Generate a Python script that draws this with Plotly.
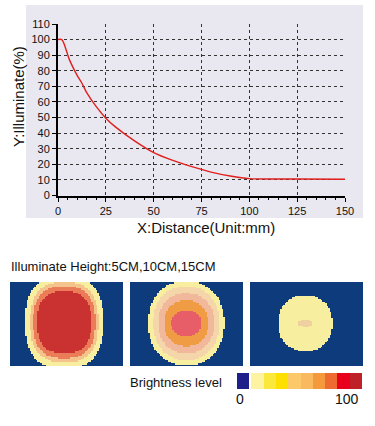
import numpy as np
import plotly.graph_objects as go

# ---------------- data ----------------
distance_mm = [0, 2, 6, 10, 12.5, 15, 20, 25, 30, 40, 50, 60, 70, 80, 90, 100, 125, 150]
illuminate_pct = [100, 100, 87, 77, 72, 66, 57, 49.6, 44, 35, 27.5, 22.5, 18.5, 15, 12.5, 10.8, 10.6, 10.4]
x_ticks = [0, 25, 50, 75, 100, 125, 150]
y_ticks = [0, 10, 20, 30, 40, 50, 60, 70, 80, 90, 100, 110]

# brightness zones of the three spots (outer -> inner), half-widths / half-heights in image pixels
spot1_rx = [39, 34, 31, 27]
spot1_ry = [46, 40, 36, 31]
spot1_colors = ["#f7eea0", "#f5c38c", "#ea7c58", "#c93230"]

spot2_rx = [38, 33, 28, 22, 15]
spot2_ry = [42, 37, 30, 23, 13]
spot2_colors = ["#f7eea0", "#f5d6aa", "#f1b89c", "#ef9c44", "#e85e68"]

spot3_rx = [27, 7]
spot3_ry = [28, 3.5]
spot3_colors = ["#f7eea0", "#efd0a0"]

legend_levels = [0, 1, 2, 3, 4, 5, 6, 7, 8, 9]
legend_colors = ["#1f1f8c", "#fdf3a0", "#fbe83c", "#fde000", "#fcc96a",
                 "#f9b95e", "#f49a3c", "#ee6a30", "#e8001c", "#be2128"]
legend_labels = ["0", "100"]

BG_NAVY = "#0d3b7b"
W, H = 375, 426
FONT = "Arial, Liberation Sans, sans-serif"


def px(x):
    return x / W


def py(y):
    return 1 - y / H


def zone_grid(rx, ry, cx, cy, p, w=113, h=84, step=1.5):
    xs = np.arange(step / 2, w, step)
    ys = np.arange(step / 2, h, step)
    X, Y = np.meshgrid(xs, ys)
    z = np.zeros_like(X)
    for i, (a, b) in enumerate(zip(rx, ry)):
        d = np.abs((X - cx) / a) ** p + np.abs((Y - cy) / b) ** p
        z[d <= 1] = i + 1
    return xs, ys, z


def discrete_scale(colors):
    n = len(colors)
    scale = []
    for k, c in enumerate(colors):
        scale.append([k / n, c])
        scale.append([(k + 1) / n, c])
    return scale


fig = go.Figure()

# background panel of the curve chart
fig.add_shape(type="rect", xref="paper", yref="paper",
              x0=px(26), x1=px(363), y0=py(218), y1=py(5),
              fillcolor="#e9e7f0", line_width=0, layer="below")

# curve
fig.add_trace(go.Scatter(x=distance_mm, y=illuminate_pct, mode="lines",
                         line=dict(color="#e0201c", width=1.4, shape="spline", smoothing=0.8),
                         showlegend=False, hoverinfo="skip",
                         xaxis="x", yaxis="y"))

hidden = dict(visible=False, automargin=False, showgrid=False, zeroline=False)

# spots
spots = [
    (spot1_rx, spot1_ry, spot1_colors, 54, 40, 10, 2.6),
    (spot2_rx, spot2_ry, spot2_colors, 56, 41, 130, 2.2),
    (spot3_rx, spot3_ry, spot3_colors, 55, 41, 250, 2.2),
]
for i, (rx, ry, cols, cx, cy, left, p) in enumerate(spots):
    n = i + 2
    xs, ys, z = zone_grid(rx, ry, cx, cy, p)
    colors = [BG_NAVY] + cols
    fig.add_trace(go.Heatmap(x=xs, y=ys, z=z, colorscale=discrete_scale(colors),
                             zmin=-0.5, zmax=len(colors) - 0.5, showscale=False,
                             hoverinfo="skip", xaxis=f"x{n}", yaxis=f"y{n}"))
    fig.update_layout(**{
        f"xaxis{n}": dict(domain=[px(left), px(left + 113)], range=[0, 113],
                          anchor=f"y{n}", **hidden),
        f"yaxis{n}": dict(domain=[py(366), py(282)], range=[84, 0],
                          anchor=f"x{n}", **hidden),
    })

# brightness legend bar
bar_z = [[legend_levels[0], None] + legend_levels[1:]]
bar_edges = [0, 1, 1.18] + [1.18 + k for k in range(1, 10)]
fig.add_trace(go.Heatmap(x=bar_edges, z=bar_z, colorscale=discrete_scale(legend_colors),
                         zmin=-0.5, zmax=9.5, showscale=False, hoverinfo="skip",
                         xaxis="x5", yaxis="y5"))
fig.update_layout(
    xaxis5=dict(domain=[px(237), px(362)], range=[0, bar_edges[-1]], anchor="y5", **hidden),
    yaxis5=dict(domain=[py(389), py(373)], range=[-0.5, 0.5], anchor="x5", **hidden),
)

axis_common = dict(
    showline=True, linecolor="black", linewidth=2,
    ticks="outside", ticklen=4, tickcolor="black", tickwidth=1,
    showgrid=True, gridcolor="#333333", gridwidth=1, griddash="3px,3px",
    zeroline=False, automargin=False,
    tickfont=dict(family=FONT, size=11, color="#111"),
)


def label(text, x, y, size, xanchor="center", angle=0):
    return dict(text=text, xref="paper", yref="paper", x=px(x), y=py(y),
                xanchor=xanchor, yanchor="middle", showarrow=False, textangle=angle,
                font=dict(family=FONT, size=size, color="#111"))


fig.update_layout(
    template="none",
    width=W, height=H,
    margin=dict(l=0, r=0, t=0, b=0, pad=0, autoexpand=False),
    paper_bgcolor="white", plot_bgcolor="rgba(0,0,0,0)",
    xaxis=dict(domain=[px(58), px(345)], range=[0, 150], tickvals=x_ticks,
               anchor="y",
               minor=dict(dtick=5, ticks="outside", ticklen=2, tickcolor="black",
                          showgrid=False),
               **axis_common),
    yaxis=dict(domain=[py(195.5), py(24)], range=[0, 110], tickvals=y_ticks,
               anchor="x", **axis_common),
    showlegend=False,
    annotations=[
        label("X:Distance(Unit:mm)", 206, 228, 15),
        label("Y:Illuminate(%)", 18, 97, 15, angle=-90),
        label("Illuminate Height:5CM,10CM,15CM", 9, 266, 13, xanchor="left"),
        label("Brightness level", 224, 382, 13, xanchor="right"),
        label(legend_labels[0], 240, 399, 14),
        label(legend_labels[1], 361, 399, 14, xanchor="right"),
    ],
)

fig.write_html("out.html",
               config={"displayModeBar": False, "staticPlot": True},
               post_script="document.body.style.margin='0';document.body.style.overflow='hidden';")
